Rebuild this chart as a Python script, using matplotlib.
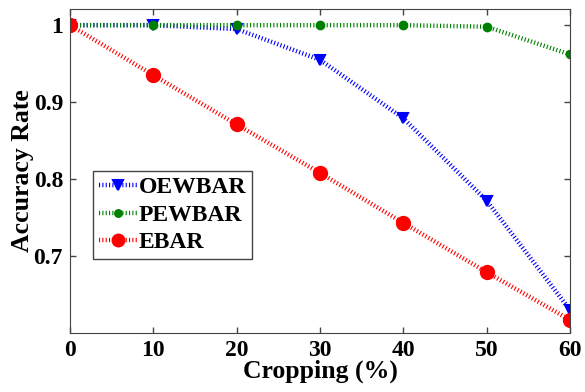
import matplotlib
matplotlib.use('Agg')
import matplotlib.pyplot as plt

cropping = [0, 10, 20, 30, 40, 50, 60]
oewbar = [1.0, 1.0, 0.995, 0.955, 0.879, 0.772, 0.630]
pewbar = [1.0, 1.0, 1.0, 1.0, 1.0, 0.998, 0.962]
ebar = [1.0, 0.935, 0.871, 0.808, 0.743, 0.679, 0.617]

yticks = [0.7, 0.8, 0.9, 1.0]
ytick_labels = ['0.7', '0.8', '0.9', '1']

plt.rcParams['font.family'] = 'Liberation Serif'
plt.rcParams['font.weight'] = 'bold'
plt.rcParams['lines.scale_dashes'] = False


def main():
    fig = plt.figure(figsize=(5.85, 3.92), dpi=100)
    ax = fig.add_axes([70 / 585, 1 - 333 / 392, 500 / 585, 324 / 392])

    dash = (0.8, 1.6)
    ax.plot(cropping, oewbar, color='blue', lw=3.2, dashes=dash,
            marker='v', ms=7.5, mec='blue', mew=1.5, label='OEWBAR')
    ax.plot(cropping, pewbar, color='green', lw=3.2, dashes=dash,
            marker='o', ms=6, mec='green', label='PEWBAR')
    ax.plot(cropping, ebar, color='red', lw=3.2, dashes=dash,
            marker='o', ms=10, mec='red', label='EBAR')

    ax.set_xlim(0, 60)
    ax.set_ylim(0.6, 1.021)
    ax.set_xticks(cropping)
    ax.set_yticks(yticks)
    ax.set_yticklabels(ytick_labels)
    ax.tick_params(direction='in', top=True, right=True, labelsize=17,
                   length=4, width=1, color='#444444', pad=5)
    for lbl in ax.get_xticklabels() + ax.get_yticklabels():
        lbl.set_fontweight('bold')
    for s in ax.spines.values():
        s.set_color('#444444')

    ax.set_xlabel('Cropping (%)', fontsize=18.5, fontweight='bold', labelpad=-1)
    ax.set_ylabel('Accuracy Rate', fontsize=18.5, fontweight='bold', labelpad=0)

    leg = ax.legend(loc='upper left', bbox_to_anchor=(23 / 500, 162 / 324),
                    prop={'weight': 'bold', 'size': 17},
                    fancybox=False, edgecolor='#444444', framealpha=1,
                    handlelength=1.6, handletextpad=0.1, borderpad=0.25,
                    labelspacing=0.25, borderaxespad=0, markerscale=0.9)
    leg.get_frame().set_linewidth(1)

    fig.savefig('out.png', dpi=100)


if __name__ == '__main__':
    main()
